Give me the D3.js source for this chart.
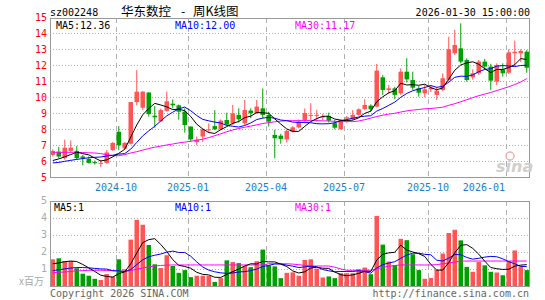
<!DOCTYPE html>
<html>
<head>
<meta charset="utf-8">
<script src="https://cdn.jsdelivr.net/npm/d3@7"></script>
<style>
body { margin: 0; background: #fff; }
svg { display: block; font-family: "DejaVu Sans Mono", monospace; }
</style>
</head>
<body>
<svg width="545" height="300"></svg>
<script>
// weekly candles, 2024-07-26 .. 2026-01-30
var opens = [6.4,6.6,6.2,6.65,6.65,6.3,6.15,5.95,5.85,5.9,
  6.7,7.85,6.8,7.1,9.7,9.35,10.3,8.85,8.5,9.15,
  9.6,9.5,9.1,8.17,7.2,7.55,7.97,8.2,8.0,8.58,
  8.37,8.9,8.37,9.17,9.0,9.31,8.9,7.65,7.6,7.37,
  7.85,8.12,8.58,8.88,8.85,8.75,8.83,8.38,8.0,8.67,
  8.65,8.9,9.27,9.48,9.42,11.25,10.46,10.56,10.25,11.6,
  11.08,10.56,10.25,10.5,10.15,10.46,11.08,12.75,13.06,12.33,
  11.25,11.5,12.23,11.92,10.98,11.75,11.54,12.75,12.75,12.85];
var closes = [6.65,6.3,6.85,6.85,6.2,6.2,5.9,5.88,5.9,6.55,
  7.15,7.0,7.15,9.7,10.35,10.35,8.95,8.75,9.2,9.75,
  9.5,9.1,8.27,7.37,7.35,8.0,8.0,8.0,8.54,8.29,
  9.0,8.62,9.2,9.0,9.42,8.9,8.48,7.44,7.4,7.9,
  8.12,8.48,9.02,8.9,8.9,8.8,8.54,8.1,8.58,8.75,
  8.9,9.25,9.52,9.25,11.67,10.46,10.56,10.15,11.6,11.12,
  10.6,10.29,10.5,10.6,10.42,11.19,13.0,13.27,12.23,11.08,
  11.5,12.23,11.92,11.04,12.02,11.5,12.81,12.85,12.9,11.85];
var highs = [6.75,6.9,7.35,7.3,6.95,6.4,6.3,6.05,6.1,6.7,
  7.2,8.2,7.2,9.7,11.7,10.4,10.3,9.45,9.3,10.35,
  9.87,9.55,9.31,8.17,7.55,8.05,8.37,9.2,8.62,9.04,
  9.52,9.31,9.83,9.31,9.83,10.55,9.1,7.96,7.72,7.96,
  8.2,8.62,9.3,9.63,9.2,8.96,9.04,8.58,8.62,8.83,
  9.2,9.31,9.88,9.56,12.08,11.38,10.77,10.65,11.81,12.44,
  11.6,10.7,10.77,10.77,10.67,11.5,13.79,14.21,14.62,12.44,
  11.75,12.33,12.4,12.1,12.12,12.12,13.0,13.54,13.0,12.95];
var lows = [6.3,6.2,6.1,6.55,6.1,5.75,5.85,5.8,5.65,5.85,
  6.65,6.7,6.75,7.05,9.5,9.2,8.8,8.1,8.45,9.1,
  9.31,8.6,7.8,7.23,7.0,7.2,7.8,7.95,7.95,8.25,
  8.27,8.42,8.27,8.7,8.96,8.69,8.17,6.19,7.1,7.17,
  7.8,8.06,8.38,8.58,8.48,8.58,8.42,8.0,8.0,8.42,
  8.58,8.85,9.2,9.1,9.38,10.15,10.2,9.88,10.15,10.92,
  10.46,10.04,10.0,10.33,9.83,10.38,10.98,12.65,12.12,10.98,
  11.1,11.4,11.7,10.46,10.77,11.29,11.46,11.92,12.2,11.54];
// volume, millions
var vols = [1.56,1.62,1.46,1.46,1.04,0.72,0.6,0.42,0.35,0.7,
  0.55,1.56,0.98,2.71,3.87,3.58,2.4,1.27,1.05,1.8,
  1.17,0.77,0.93,0.52,0.6,0.6,0.6,0.24,0.46,1.5,
  1.4,1.34,1.17,1.1,1.45,2.13,1.2,1.15,0.46,0.77,
  0.8,0.6,1.52,1.56,1.02,0.5,0.56,0.46,0.75,0.75,
  0.75,0.98,1.08,0.69,4.1,2.42,1.43,1.22,2.76,2.68,
  1.86,0.93,0.42,0.47,0.95,1.9,3.1,3.29,2.67,1.12,
  0.83,1.4,1.21,0.83,0.79,0.63,1.45,2.08,1.15,0.93];

var ma5 = [6.05,6.15,6.28,6.42,6.57,6.48,6.4,6.21,6.02,6.09,
  6.28,6.5,6.75,7.51,8.27,8.91,9.3,9.62,9.52,9.4,
  9.23,9.26,9.16,8.8,8.32,8.02,7.8,7.74,7.98,8.17,
  8.37,8.49,8.73,8.82,9.05,9.03,9.0,8.65,8.33,8.02,
  7.87,7.87,8.18,8.48,8.67,8.81,8.82,8.64,8.57,8.55,
  8.57,8.72,9.0,9.13,9.72,10.03,10.28,10.41,10.88,10.77,
  10.79,10.75,10.82,10.61,10.47,10.59,11.13,11.69,12.02,12.15,
  12.22,12.06,11.79,11.55,11.74,11.74,11.86,12.04,12.42,12.36];
var ma10 = [5.9,5.93,6.0,6.06,6.12,6.17,6.22,6.25,6.27,6.33,
  6.38,6.45,6.48,6.76,7.18,7.59,7.9,8.19,8.52,8.84,
  9.07,9.28,9.39,9.16,8.86,8.62,8.53,8.45,8.39,8.24,
  8.19,8.14,8.24,8.4,8.61,8.7,8.75,8.69,8.58,8.54,
  8.45,8.43,8.42,8.41,8.35,8.34,8.35,8.41,8.53,8.61,
  8.69,8.77,8.82,8.85,9.14,9.3,9.5,9.7,10.0,10.24,
  10.41,10.52,10.61,10.74,10.62,10.69,10.94,11.25,11.32,11.31,
  11.4,11.6,11.74,11.79,11.95,11.98,11.96,11.92,11.99,12.0];
var ma30 = [6.56,6.56,6.56,6.56,6.56,6.55,6.53,6.52,6.48,6.42,
  6.36,6.35,6.42,6.52,6.6,6.7,6.8,6.88,6.95,7.02,
  7.08,7.15,7.2,7.25,7.32,7.38,7.48,7.6,7.72,7.85,
  7.96,8.05,8.13,8.2,8.28,8.36,8.42,8.47,8.51,8.54,
  8.54,8.54,8.54,8.54,8.54,8.53,8.52,8.5,8.48,8.48,
  8.48,8.52,8.6,8.7,8.8,8.88,8.95,9.0,9.08,9.15,
  9.2,9.24,9.28,9.3,9.34,9.38,9.5,9.6,9.72,9.85,
  9.98,10.1,10.2,10.3,10.42,10.54,10.66,10.8,10.96,11.17];
var vma5 = [1.3,1.35,1.42,1.46,1.43,1.26,1.06,0.85,0.63,0.56,
  0.52,0.72,0.83,1.3,1.93,2.54,2.71,2.77,2.43,2.02,
  1.54,1.21,1.14,1.04,0.8,0.68,0.65,0.51,0.5,0.68,
  0.84,0.99,1.17,1.3,1.29,1.44,1.41,1.41,1.28,1.14,
  0.88,0.76,0.83,1.05,1.1,1.04,1.03,0.82,0.66,0.6,
  0.65,0.74,0.86,0.85,1.52,1.85,1.94,1.97,2.39,2.1,
  1.99,1.89,1.73,1.27,0.93,0.93,1.37,1.94,2.38,2.42,
  2.2,1.86,1.45,1.08,1.01,0.97,0.98,1.16,1.22,1.25];
var vma10 = [0.9,0.95,1.0,1.05,1.08,1.08,1.06,1.03,1.0,0.99,
  0.89,0.89,0.84,0.96,1.25,1.53,1.71,1.8,1.87,1.98,
  2.04,1.96,1.96,1.74,1.41,1.11,0.93,0.83,0.77,0.74,
  0.76,0.82,0.84,0.9,0.99,1.14,1.2,1.29,1.29,1.22,
  1.16,1.08,1.12,1.16,1.12,0.96,0.89,0.83,0.85,0.85,
  0.85,0.89,0.84,0.75,1.06,1.25,1.34,1.42,1.62,1.81,
  1.92,1.92,1.85,1.83,1.51,1.46,1.63,1.84,1.83,1.67,
  1.57,1.62,1.69,1.73,1.71,1.59,1.42,1.3,1.15,1.13];
var vma30 = [0.78,0.8,0.82,0.85,0.88,0.9,0.92,0.92,0.92,0.91,
  0.9,0.87,0.85,0.9,0.98,1.05,1.12,1.17,1.2,1.22,
  1.23,1.23,1.23,1.23,1.23,1.23,1.23,1.23,1.23,1.23,
  1.23,1.23,1.23,1.23,1.23,1.23,1.3,1.3,1.3,1.3,
  1.28,1.25,1.2,1.17,1.17,1.17,1.17,1.1,1.0,0.92,
  0.92,0.92,0.92,0.92,1.0,1.1,1.15,1.2,1.23,1.23,
  1.23,1.23,1.23,1.23,1.25,1.3,1.35,1.4,1.46,1.46,
  1.46,1.46,1.46,1.46,1.46,1.46,1.46,1.46,1.46,1.46];

var monthIdx = [11, 23, 36, 49, 63, 76];
var monthLabels = ["2024-10", "2025-01", "2025-04", "2025-07", "2025-10", "2026-01"];
var priceTicks = [5, 6, 7, 8, 9, 10, 11, 12, 13, 14, 15];
var volTicks = [1, 2, 3, 4, 5];

var svg = d3.select("svg"),
    left = 50,
    right = 529;

var up = "#ff5555", down = "#00a000", gridc = "#b0b0b0";

var x = d3.scaleBand().domain(d3.range(closes.length)).range([left, left + 6 * closes.length]);
var yP = d3.scaleLinear().domain([5, 15]).range([177.3, 17.3]);
var yV = d3.scaleLinear().domain([0, 5]).range([286, 200.5]);

function cx(i) { return x(i) + 2.75; }
function isUp(i) { return closes[i] >= opens[i]; }

svg.append("rect").attr("width", 545).attr("height", 300).attr("fill", "#fff");

var defs = svg.append("defs");
defs.append("clipPath").attr("id", "clipP").append("rect")
  .attr("x", left).attr("y", 18).attr("width", right - left).attr("height", 159);
defs.append("clipPath").attr("id", "clipV").append("rect")
  .attr("x", left).attr("y", 201).attr("width", right - left).attr("height", 85);

// ---- grids
function grid(g, ys, top, bottom) {
  g.selectAll(".hg").data(ys).enter().append("line")
    .attr("x1", left).attr("x2", right)
    .attr("y1", function(d) { return Math.round(d) + 0.5; })
    .attr("y2", function(d) { return Math.round(d) + 0.5; })
    .attr("stroke", gridc).attr("stroke-dasharray", "1,2");
  g.selectAll(".vg").data(monthIdx).enter().append("line")
    .attr("x1", function(d) { return Math.round(x(d)) + 0.5; })
    .attr("x2", function(d) { return Math.round(x(d)) + 0.5; })
    .attr("y1", top).attr("y2", bottom)
    .attr("stroke", gridc).attr("stroke-dasharray", "5,4");
}
grid(svg.append("g"), [6,7,8,9,10,11,12,13,14].map(yP), 18, 177);
grid(svg.append("g"), [1,2,3,4].map(yV), 201, 286);

// ---- candles
var gp = svg.append("g").attr("clip-path", "url(#clipP)");
var idx = d3.range(closes.length);

gp.selectAll(".wick").data(idx).enter().append("line")
  .attr("x1", cx).attr("x2", cx)
  .attr("y1", function(i) { return yP(highs[i]); })
  .attr("y2", function(i) { return yP(lows[i]); })
  .attr("stroke", function(i) { return isUp(i) ? up : down; });

gp.selectAll(".body").data(idx).enter().append("rect")
  .attr("x", function(i) { return x(i) + 0.5; })
  .attr("width", 4.5)
  .attr("y", function(i) { return yP(Math.max(opens[i], closes[i])); })
  .attr("height", function(i) {
    return Math.max(1, yP(Math.min(opens[i], closes[i])) - yP(Math.max(opens[i], closes[i])));
  })
  .attr("fill", function(i) { return isUp(i) ? up : down; });

function maLine(g, arr, y, color) {
  g.append("path").datum(arr)
    .attr("fill", "none").attr("stroke", color).attr("stroke-width", 1)
    .attr("d", d3.line().x(function(d, i) { return cx(i); }).y(function(d) { return y(d); }));
}
maLine(gp, ma30, yP, "#ff00ff");
maLine(gp, ma10, yP, "#0000ff");
maLine(gp, ma5, yP, "#000000");

// ---- volume
var gv = svg.append("g").attr("clip-path", "url(#clipV)");
gv.selectAll(".vbar").data(idx).enter().append("rect")
  .attr("x", function(i) { return x(i) + 0.5; })
  .attr("width", 4.5)
  .attr("y", function(i) { return yV(vols[i]); })
  .attr("height", function(i) { return yV(0) - yV(vols[i]); })
  .attr("fill", function(i) { return isUp(i) ? up : down; });
maLine(gv, vma30, yV, "#ff00ff");
maLine(gv, vma10, yV, "#0000ff");
maLine(gv, vma5, yV, "#000000");

// ---- frames
svg.append("rect").attr("x", left + 0.5).attr("y", 18.5).attr("width", right - left).attr("height", 159)
  .attr("fill", "none").attr("stroke", "#999");
svg.append("rect").attr("x", left + 0.5).attr("y", 201.5).attr("width", right - left).attr("height", 85)
  .attr("fill", "none").attr("stroke", "#999");

// ---- axis labels
svg.selectAll(".pt").data(priceTicks).enter().append("text")
  .attr("x", 47).attr("y", function(d) { return yP(d); }).attr("dy", "0.35em")
  .attr("text-anchor", "end").attr("font-size", 10).attr("fill", "#ff0000")
  .text(function(d) { return d; });

svg.selectAll(".vt").data(volTicks).enter().append("text")
  .attr("x", 47).attr("y", function(d) { return yV(d); }).attr("dy", "0.3em")
  .attr("text-anchor", "end").attr("font-size", 10).attr("fill", "#aaa")
  .text(function(d) { return d; });

svg.selectAll(".mt").data(monthIdx).enter().append("text")
  .attr("x", function(d, k) { return k == monthIdx.length - 1 ? x(d) - 1 : x(d); })
  .attr("y", 190.5)
  .attr("text-anchor", function(d, k) { return k == monthIdx.length - 1 ? "end" : "middle"; })
  .attr("font-size", 10).attr("fill", "#1a7fc8")
  .text(function(d, k) { return monthLabels[k]; });

// ---- header and legends
svg.append("text").attr("x", 50).attr("y", 15.5).attr("font-size", 10).attr("fill", "#000").text("sz002248");
var cjk = "'Noto Sans CJK SC', sans-serif";
svg.append("text").attr("x", 121).attr("y", 16).attr("font-size", 12.5)
  .attr("font-family", cjk).attr("fill", "#000").text("华东数控");
svg.append("text").attr("x", 181).attr("y", 16).attr("font-size", 12.5)
  .attr("font-family", cjk).attr("fill", "#000").text("-");
svg.append("text").attr("x", 193).attr("y", 16).attr("font-size", 12.5)
  .attr("font-family", cjk).attr("fill", "#000").text("周K线图");
svg.append("text").attr("x", 530).attr("y", 15.5).attr("text-anchor", "end").attr("font-size", 10)
  .attr("fill", "#000").text("2026-01-30 15:00:00");

var last = closes.length - 1;
svg.append("text").attr("x", 56).attr("y", 28.5).attr("font-size", 10).attr("fill", "#000")
  .text("MA5:" + ma5[last].toFixed(2));
svg.append("text").attr("x", 175).attr("y", 28.5).attr("font-size", 10).attr("fill", "#0000ff")
  .text("MA10:" + ma10[last].toFixed(2));
svg.append("text").attr("x", 295).attr("y", 28.5).attr("font-size", 10).attr("fill", "#ff00ff")
  .text("MA30:" + ma30[last].toFixed(2));

svg.append("text").attr("x", 54).attr("y", 210.5).attr("font-size", 10).attr("fill", "#000")
  .text("MA5:" + Math.round(vma5[last]));
svg.append("text").attr("x", 175).attr("y", 210.5).attr("font-size", 10).attr("fill", "#0000ff")
  .text("MA10:" + Math.round(vma10[last]));
svg.append("text").attr("x", 295).attr("y", 210.5).attr("font-size", 10).attr("fill", "#ff00ff")
  .text("MA30:" + Math.round(vma30[last]));

svg.append("text").attr("x", 19).attr("y", 285).attr("font-size", 10)
  .attr("font-family", cjk).attr("fill", "#aaa").text("x百万");

svg.append("text").attr("x", 50).attr("y", 297).attr("font-size", 10).attr("fill", "#666")
  .text("Copyright 2026 SINA.COM");
svg.append("text").attr("x", 529).attr("y", 297).attr("text-anchor", "end").attr("font-size", 10)
  .attr("fill", "#666").text("http://finance.sina.com.cn");

// sina watermark
svg.append("circle").attr("cx", 510).attr("cy", 156).attr("r", 4)
  .attr("fill", "none").attr("stroke", "#f2b0b0").attr("stroke-width", 1.5);
svg.append("text").attr("x", 496).attr("y", 172).attr("font-size", 16)
  .attr("font-family", "'DejaVu Sans', sans-serif").attr("font-weight", "bold").attr("font-style", "italic")
  .attr("fill", "#cfcfcf").text("sina");
</script>
</body>
</html>
